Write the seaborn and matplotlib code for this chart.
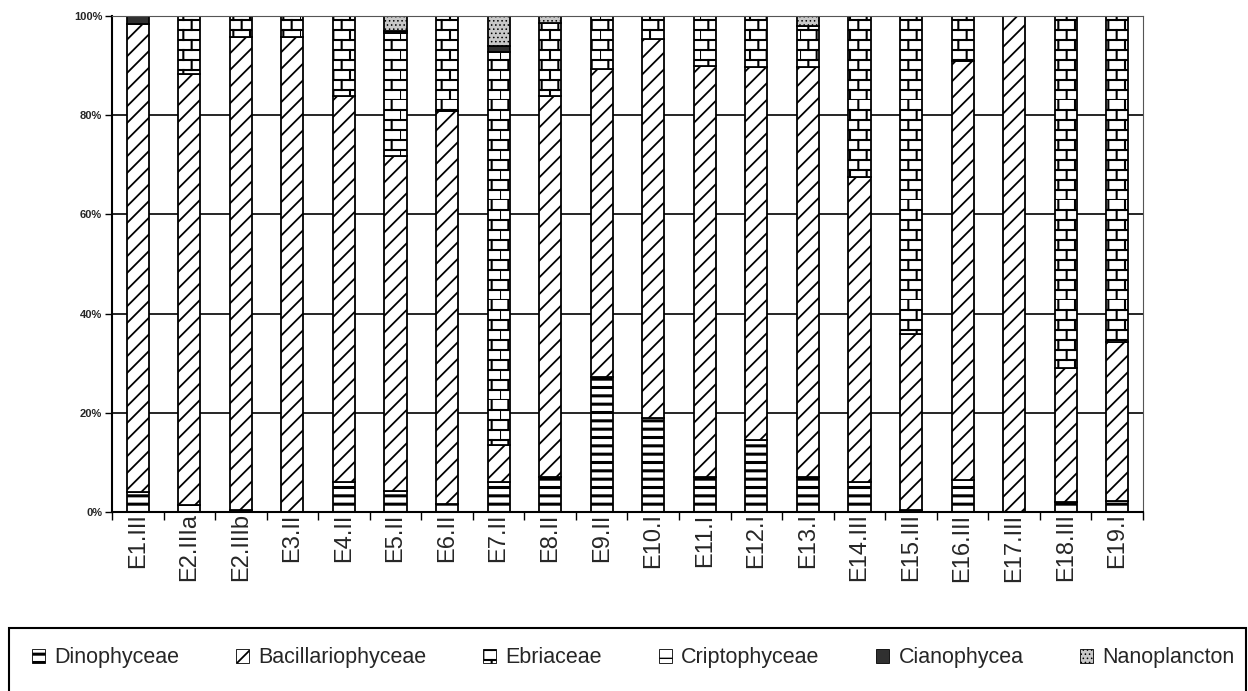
import warnings
import numpy as np
import pandas as pd
import seaborn as sns
import matplotlib
matplotlib.use('Agg')
import matplotlib.pyplot as plt
import matplotlib.hatch as mhatch
from matplotlib.path import Path
from matplotlib.patches import Patch, Rectangle
from matplotlib.colors import to_hex

warnings.filterwarnings('ignore')

# estaciones (eje x)
stations = ['E1.III', 'E2.IIIa', 'E2.IIIb', 'E3.II', 'E4.II', 'E5.II', 'E6.II',
            'E7.II', 'E8.II', 'E9.II', 'E10.I', 'E11.I', 'E12.I', 'E13.I',
            'E14.III', 'E15.III', 'E16.III', 'E17.III', 'E18.III', 'E19.I']

groups = ['Dinophyceae', 'Bacillariophyceae', 'Ebriaceae',
          'Criptophyceae', 'Cianophycea', 'Nanoplancton']

# % por estacion
dino = [4.0, 1.5, 0.5, 0.0, 6.0, 4.3, 1.6, 6.0, 7.0, 27.3,
        19.0, 7.0, 14.5, 7.0, 6.0, 0.5, 6.5, 0.0, 2.0, 2.2]
bacil = [94.4, 86.8, 95.3, 95.8, 77.8, 67.4, 79.2, 7.5, 76.8, 62.0,
         76.3, 83.0, 75.2, 82.7, 61.5, 35.3, 84.5, 100.0, 27.0, 32.1]
ebri = [0.0, 11.7, 4.2, 4.2, 16.2, 24.8, 19.2, 79.2, 14.7, 10.7,
        4.7, 10.0, 10.3, 8.3, 32.5, 64.2, 9.0, 0.0, 71.0, 65.7]
cripto = [0.0] * 20
ciano = [1.6, 0.0, 0.0, 0.0, 0.0, 0.5, 0.0, 1.2, 0.0, 0.0,
         0.0, 0.0, 0.0, 0.0, 0.0, 0.0, 0.0, 0.0, 0.0, 0.0]
nano = [0.0, 0.0, 0.0, 0.0, 0.0, 3.0, 0.0, 6.1, 1.5, 0.0,
        0.0, 0.0, 0.0, 2.0, 0.0, 0.0, 0.0, 0.0, 0.0, 0.0]

y_ticks = [0, 0.2, 0.4, 0.6, 0.8, 1.0]
y_labels = ['0%', '20%', '40%', '60%', '80%', '100%']


# patron de ladrillos (Ebriaceae)
class BrickHatch(mhatch.HatchPatternBase):
    def __init__(self, hatch, density):
        n = hatch.count('b')
        self.rows = 10 * n
        self.cols = 6 * n
        self.num_vertices = (self.rows + self.rows * self.cols) * 2 if n else 0

    def set_vertices_and_codes(self, vertices, codes):
        k = 0
        for i in range(self.rows):
            y = i / self.rows
            vertices[k] = (0, y)
            vertices[k + 1] = (1, y)
            k += 2
        for i in range(self.rows):
            y0 = i / self.rows
            y1 = (i + 1) / self.rows
            off = 0.5 / self.cols if i % 2 else 0
            for j in range(self.cols):
                x = j / self.cols + off
                vertices[k] = (x, y0)
                vertices[k + 1] = (x, y1)
                k += 2
        codes[0::2] = Path.MOVETO
        codes[1::2] = Path.LINETO


mhatch._hatch_types.append(BrickHatch)

styles = {
    'Dinophyceae': dict(fc='white', hatch='--', hlw=2.2),
    'Bacillariophyceae': dict(fc='white', hatch='//', hlw=1.3),
    'Ebriaceae': dict(fc='white', hatch='b', hlw=1.5),
    'Criptophyceae': dict(fc='white', hatch='-', hlw=1.0),
    'Cianophycea': dict(fc='#303030', hatch='', hlw=1.0),
    'Nanoplancton': dict(fc='#c8c8c8', hatch='....', hlw=0.6),
}

sns.set_theme(style='white')
plt.rcParams['font.family'] = ['Liberation Sans', 'DejaVu Sans']

rows = []
for g, vals in zip(groups, [dino, bacil, ebri, cripto, ciano, nano]):
    for s, v in zip(stations, vals):
        rows.append({'estacion': s, 'grupo': g, 'valor': v})
df = pd.DataFrame(rows)

tmp_cols = ['#ff0000', '#00ff00', '#0000ff', '#ffff00', '#ff00ff', '#00ffff']
pal = dict(zip(groups, tmp_cols))

fig = plt.figure(figsize=(12.48, 6.91), dpi=100)
ax = fig.add_axes([0.0897, 0.259, 0.8262, 0.718])

# seaborn apila el primer nivel arriba -> orden invertido para tener Dinophyceae abajo
sns.histplot(data=df, x='estacion', weights='valor', hue='grupo', hue_order=groups[::-1],
             multiple='fill', discrete=True, shrink=0.43, palette=pal, alpha=1,
             edgecolor='black', linewidth=1.3, legend=False, ax=ax)

col2grp = {to_hex(c): g for g, c in pal.items()}
for p in ax.patches:
    g = col2grp.get(to_hex(p.get_facecolor()))
    if g is None:
        continue
    st = styles[g]
    if p.get_height() < 1e-6:
        p.set_visible(False)
        continue
    p.set_facecolor(st['fc'])
    p.set_edgecolor('black')
    if st['hatch']:
        p.set_hatch(st['hatch'])
        if hasattr(p, 'set_hatch_linewidth'):
            p.set_hatch_linewidth(st['hlw'])

ax.set_xlim(-0.5, len(stations) - 0.5)
ax.set_ylim(0, 1)
ax.set_xticks(range(len(stations)))
ax.set_xticklabels(stations, rotation=90, fontsize=17)
ax.set_xticks(np.arange(-0.5, len(stations), 1), minor=True)
ax.tick_params(axis='x', which='major', length=0, pad=1)
ax.tick_params(axis='x', which='minor', length=6, width=1, color='black', direction='out', bottom=True)
ax.set_yticks(y_ticks)
ax.set_yticklabels(y_labels, fontsize=8, fontweight='bold')
ax.tick_params(axis='y', length=5, width=1, color='black', direction='out', left=True, pad=2)
ax.set_xlabel('')
ax.set_ylabel('')

ax.set_axisbelow(True)
ax.yaxis.grid(True, color='black', linewidth=1.2)
ax.xaxis.grid(False)
for side in ['left', 'bottom']:
    ax.spines[side].set_color('black')
    ax.spines[side].set_linewidth(1.5)
for side in ['top', 'right']:
    ax.spines[side].set_color('#555555')
    ax.spines[side].set_linewidth(0.8)

handles = []
for g in groups:
    st = styles[g]
    handles.append(Patch(facecolor=st['fc'], edgecolor='black', linewidth=0.6,
                         hatch=st['hatch'] or None))
leg = fig.legend(handles, groups, loc='center left', bbox_to_anchor=(0.0256, 0.048),
                 ncol=6, frameon=False, fontsize=15.5, handlelength=0.6,
                 handleheight=0.6, handletextpad=0.45, columnspacing=2.62,
                 borderaxespad=0, borderpad=0)
for p, g in zip(leg.get_patches(), groups):
    if hasattr(p, 'set_hatch_linewidth'):
        p.set_hatch_linewidth(styles[g]['hlw'])

fig.patches.append(Rectangle((0.0072, -0.02), 0.991, 0.111, transform=fig.transFigure,
                             fill=False, edgecolor='black', linewidth=1.5))

fig.savefig('out.png', dpi=100, facecolor='white')
